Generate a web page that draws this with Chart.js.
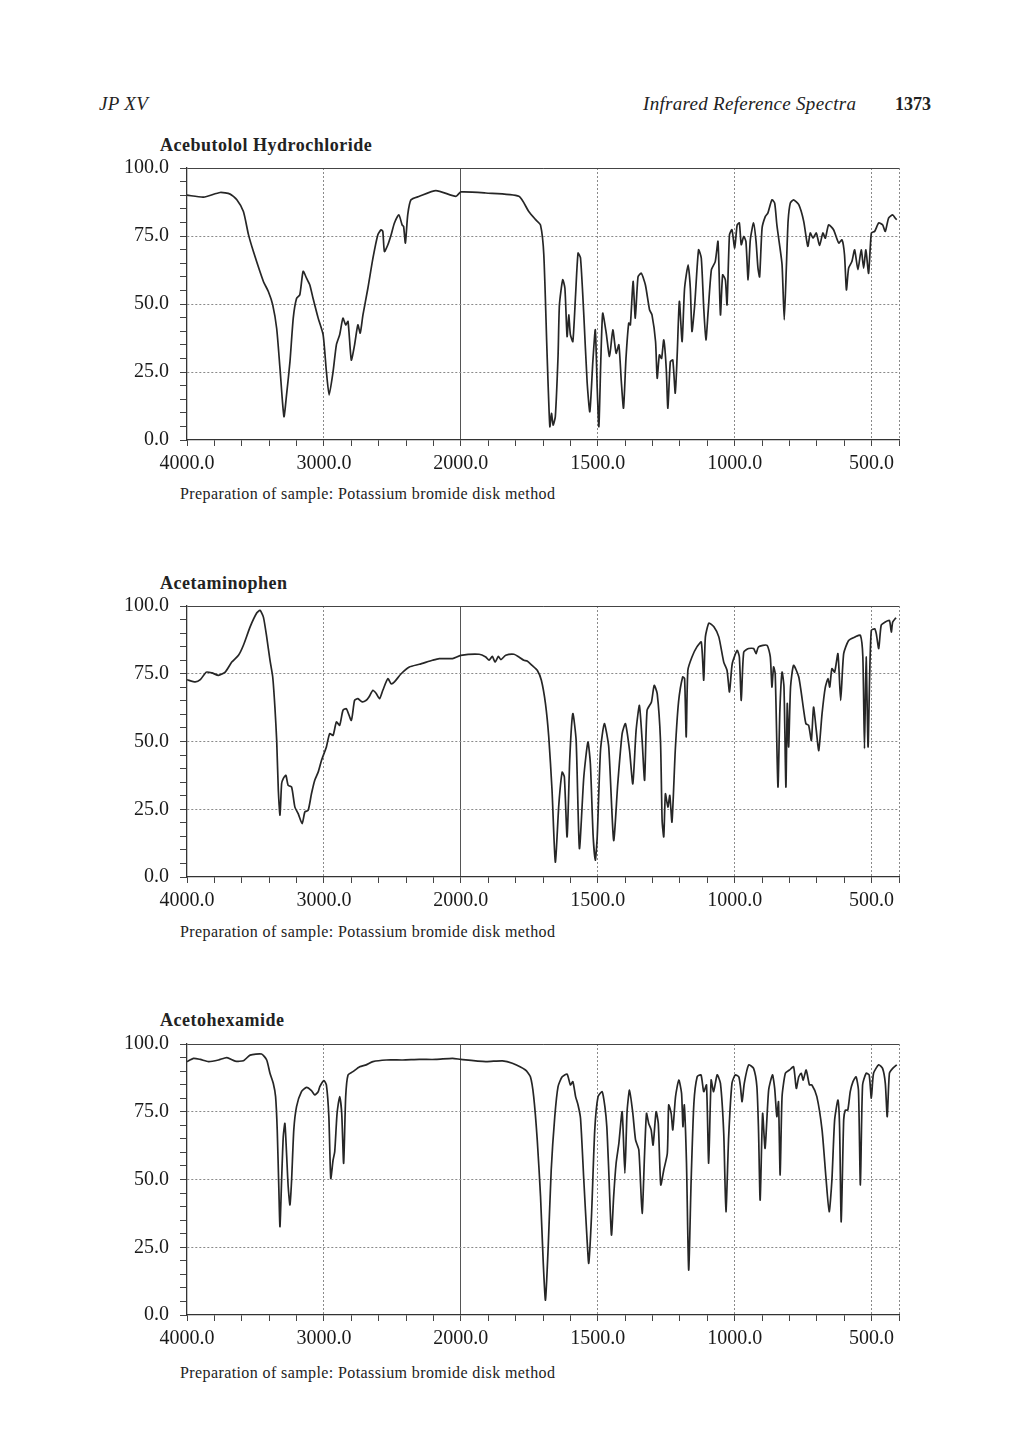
<!DOCTYPE html>
<html>
<head>
<meta charset="utf-8">
<script src="https://cdn.jsdelivr.net/npm/chart.js@4"></script>
<style>
  body { margin: 0; background: #fff; width: 1020px; height: 1443px; position: relative; font-family: "Liberation Serif", serif; color: #222; }
  .txt { position: absolute; white-space: nowrap; line-height: 1; }
  .head { font-size: 19px; font-style: italic; letter-spacing: 0.3px; top: 94px; }
  .title { font-size: 18px; font-weight: bold; letter-spacing: 0.5px; left: 160px; }
  .note { font-size: 16px; letter-spacing: 0.4px; left: 180px; }
  canvas { position: absolute; left: 0; }
</style>
</head>
<body>
<div class="txt head" style="left:99px;">JP XV</div>
<div class="txt head" style="left:643px;">Infrared Reference Spectra</div>
<div class="txt" style="left:895px;top:95px;font-size:18px;font-weight:bold;">1373</div>

<div class="txt title" style="top:136px;">Acebutolol Hydrochloride</div>
<canvas id="c1" width="1020" height="340" style="top:140px"></canvas>
<div class="txt note" style="top:486px;">Preparation of sample: Potassium bromide disk method</div>

<div class="txt title" style="top:574px;">Acetaminophen</div>
<canvas id="c2" width="1020" height="339" style="top:578px"></canvas>
<div class="txt note" style="top:924px;">Preparation of sample: Potassium bromide disk method</div>

<div class="txt title" style="top:1011px;">Acetohexamide</div>
<canvas id="c3" width="1020" height="339" style="top:1016px"></canvas>
<div class="txt note" style="top:1365px;">Preparation of sample: Potassium bromide disk method</div>

<script>
// wavenumber (cm-1) and transmittance (%)
const acebutololWn = [4000,3879,3758,3685,3636,3588,3551,3515,3442,3406,3374,3345,3321,3292,3273,3248,3224,3200,3176,3152,3127,3103,3079,3042,3006,2982,2962,2933,2909,2885,2861,2841,2824,2800,2776,2752,2735,2715,2679,2642,2606,2582,2570,2558,2533,2509,2485,2453,2429,2418,2405,2388,2364,2303,2182,2036,2000,1909,1788,1752,1727,1709,1697,1685,1675,1669,1663,1655,1645,1640,1628,1620,1612,1606,1600,1591,1581,1572,1563,1551,1539,1529,1518,1509,1502,1496,1489,1482,1470,1457,1445,1433,1423,1414,1406,1397,1387,1381,1371,1363,1353,1341,1326,1311,1302,1289,1283,1275,1267,1259,1250,1244,1235,1226,1217,1210,1202,1192,1183,1170,1162,1156,1146,1132,1122,1113,1105,1097,1085,1071,1061,1052,1044,1034,1028,1019,1010,1000,991,983,976,967,959,951,943,931,922,915,909,900,888,879,864,854,846,837,827,819,811,805,797,785,766,748,733,724,714,702,690,678,669,657,639,620,608,599,592,584,572,562,550,538,529,521,511,501,489,474,460,450,438,423,414,408];
const acebutololT = [90,89.3,91,90.4,88.3,84,75.5,69.3,58.3,54.6,49.7,41,26.4,8.6,16.6,28.8,44.8,52,53.4,62,59.5,57,52,44.8,38.7,25.2,16.6,25.2,35,38.7,44.8,42.3,43.6,29.4,35,42.3,39.3,46,55.8,66.9,75.5,77.3,76.7,69.3,71.8,75.5,79.8,82.8,79.1,78.5,72.4,82.8,88.3,89.6,91.7,89.6,91.2,90.8,89.6,84,81,79,68,31.3,4.9,9.8,5.5,8.6,31,49.7,58.9,55.8,38,46,38.7,36.2,53.4,68.7,66.9,46,21.5,10.4,28.8,40.5,19,4.9,28.8,46.6,39.9,30.7,40.5,31.9,35,21.5,11.7,30,43,42.3,58.3,44.8,60,61.3,57,47.9,46,36.2,22.7,31.3,30,36.8,26.4,11.7,28.8,29.4,17.2,31.3,51,36.2,55.8,64.4,55.8,39.9,49.7,69.9,66.9,48.5,36.8,47.2,62.6,65.6,73,46,60.7,58.9,49.7,75.5,77.3,70.6,79.1,79.8,71.8,74.8,73,58.9,73.6,79.8,73,63.2,60,77.9,82.2,83.4,88.3,87.1,79.1,72.4,64.4,44.2,64.4,80.4,87.1,88.3,86.5,80.4,71.2,76.1,74.2,76.1,71.5,76.1,74.2,79.1,77.3,72.4,73.6,68.1,55.2,63.2,65.6,69.9,62.6,69.9,63.2,69.9,61.3,76.1,76.7,79.8,79.1,76.7,81.6,82.8,81.6,81];

const acetaminophenWn = [4000,3939,3903,3859,3818,3770,3721,3673,3624,3588,3539,3491,3467,3442,3418,3394,3374,3358,3345,3333,3321,3309,3297,3278,3261,3236,3212,3188,3159,3139,3115,3091,3067,3042,3018,2982,2958,2933,2909,2885,2861,2836,2800,2776,2752,2720,2691,2671,2642,2618,2594,2570,2533,2509,2485,2436,2376,2303,2206,2158,2061,2000,1933,1909,1897,1885,1875,1863,1854,1836,1806,1788,1770,1758,1740,1721,1706,1691,1679,1667,1655,1642,1630,1622,1612,1602,1591,1579,1567,1551,1536,1527,1517,1509,1502,1490,1476,1460,1442,1427,1411,1399,1384,1372,1360,1348,1338,1329,1320,1304,1294,1283,1271,1265,1259,1253,1244,1237,1229,1217,1205,1190,1183,1177,1171,1156,1138,1122,1113,1107,1094,1076,1058,1040,1028,1019,1009,991,983,976,967,949,931,922,913,882,870,864,858,852,842,835,827,820,813,808,803,796,785,766,748,740,730,720,712,702,693,681,669,659,653,645,635,623,613,602,584,560,541,532,526,520,513,507,501,489,483,474,465,450,435,428,423,411];
const acetaminophenT = [72.8,72,72.8,75.6,75.3,74.4,75.6,79.3,81.8,85.5,92.3,97.4,98.4,95.9,88.6,80,73.8,62.7,50.4,32,22.8,34.4,36.3,37.5,33.8,33.2,25.8,23.4,19.7,24,24.6,30.7,35.7,38.7,43,48,52.9,52.3,57.2,56,61.5,62.1,57.8,65.2,65.8,64.6,65.2,66.4,68.9,67.7,65.8,68.9,73.2,71.3,72,75,77.5,78.5,80,80.6,80.6,81.8,82.2,81.2,80,81.4,79.3,81.4,80.2,81.8,82.2,81.2,80,79.7,78.1,76.3,72.6,64,51.7,32,5.5,27,38.7,36.9,14.8,44.3,60.3,50.4,10.5,36.9,49.8,41.8,15.4,6.2,14.8,46.7,56.6,48,13.5,34.4,52.9,56.6,46.7,34.4,54.1,63.3,50.4,35.7,61.5,64.6,70.7,67.7,50.4,20.9,14.8,30.7,25.8,30.1,20.3,46.7,64.6,73.8,73.2,51.7,76.3,81.2,84.9,86.7,72.6,88.6,93.7,92.3,88.6,79.3,76.3,68.3,78.7,83.6,81.2,65.2,83,84.3,84.3,82.4,84.9,85.5,81.2,70.1,77.5,75,33.2,61.5,75.6,70.1,33.2,64,48,70.1,78.1,73.8,61.5,56.6,56,50.4,62.7,54.1,46.7,60.3,70.1,73.2,70.1,76.9,75.6,82.4,65.2,82.4,87.3,88.6,89.2,81.2,47.4,81.2,48,75,91,91.6,89.8,84.3,92.9,94.1,94.7,90.4,94.1,95.7];

const acetohexamideWn = [4000,3952,3903,3842,3770,3709,3648,3588,3539,3455,3418,3394,3370,3353,3341,3329,3321,3309,3297,3285,3273,3261,3248,3236,3220,3200,3164,3127,3091,3067,3042,3030,3000,2982,2964,2950,2933,2921,2904,2885,2870,2856,2841,2824,2788,2739,2691,2642,2545,2424,2303,2182,2061,2000,1909,1848,1812,1764,1746,1734,1721,1709,1699,1691,1681,1670,1657,1645,1630,1612,1600,1591,1581,1572,1563,1551,1539,1533,1523,1511,1499,1484,1474,1467,1460,1450,1442,1433,1423,1411,1401,1393,1384,1372,1362,1350,1338,1329,1322,1314,1305,1298,1287,1279,1270,1259,1246,1241,1232,1226,1216,1204,1194,1189,1184,1176,1168,1159,1149,1137,1123,1113,1103,1095,1086,1077,1064,1052,1040,1032,1022,1010,998,985,979,973,965,949,931,919,913,907,898,889,876,862,854,846,840,834,827,815,800,785,775,766,757,750,739,727,718,700,681,667,655,645,635,623,617,611,602,596,587,578,568,557,548,541,533,520,509,501,493,474,460,450,443,435,423,408];
const acetohexamideT = [93.5,94.7,94.3,93.5,94.1,95,93.7,93.8,95.9,96.3,94.1,89.2,85.5,80.6,68.3,46.1,32.6,49.8,65.8,70.7,59.7,47.4,40.6,49.8,68.3,76.9,82.4,84,82.8,81.2,82.4,84.3,86.5,84.9,73.2,50.4,57.2,60.3,74.4,80.6,74.4,56,80.6,88.6,89.8,91.6,92.3,93.5,94.1,94.1,94.3,94.3,94.7,94.3,93.5,93.8,92.9,90.4,87.9,80.6,64.6,43.7,19.1,5.5,25.2,53.5,73.2,84.3,87.9,88.9,84.9,86.1,80.6,77.5,72.6,49.8,27.7,19.1,36.3,68.3,80.6,82.4,76.9,69.5,53.5,29.5,43.7,56,63.3,75,52.3,75,83,74.4,64.6,60.9,37.5,59.7,74.4,70.7,68.3,62.7,75,70.7,48,53.5,59.7,77.5,74.4,68.3,80.6,86.7,81.8,69.5,77.5,56,16.6,49.8,78.1,87.9,88.6,82.4,84.9,56,86.7,82.4,88.6,85.5,67,38.1,65.8,85.5,88.6,87.9,84.3,78.7,85.5,92.3,91,84.3,68.3,42.4,74.4,61.5,83,88.6,83.6,73.2,78.7,51.7,80.6,89.2,90.4,91.6,83.6,87.9,89.2,86.7,90.4,84.9,84.9,80.6,68.3,51,38.1,49.8,72,79.3,69.5,34.4,72,75.6,75.6,82.4,86.1,87.9,83,48,84.9,89.2,88.6,80,89.2,92.3,91,85.5,73.2,89.2,91,92.3];

// axis ticks
const xTicks = [4000,3800,3600,3400,3200,3000,2800,2600,2400,2200,2000,1900,1800,1700,1600,1500,1400,1300,1200,1100,1000,900,800,700,600,500,400];
const xLabelled = [4000,3000,2000,1500,1000,500];
const xGridAt = [3000,2000,1500,1000,500,400];
const yLabelled = [0,25,50,75,100];

// IR chart paper: 4000-2000 at half the scale of 2000-400
class IrSplitScale extends Chart.LinearScale {
  getPixelForValue(v) {
    const u = v >= 2000 ? (4000 - v) : 2000 + (2000 - v) * 2;
    return this.left + u / 5200 * this.width;
  }
  getValueForPixel(p) {
    const u = (p - this.left) / this.width * 5200;
    return u <= 2000 ? 4000 - u : 2000 - (u - 2000) / 2;
  }
}
IrSplitScale.id = 'irsplit';
IrSplitScale.defaults = {};
Chart.register(IrSplitScale);

const tickFont = { family: 'Liberation Serif', size: 20 };

function makeChart(id, wn, t) {
  const pts = wn.map((w, i) => ({ x: w, y: t[i] }));
  return new Chart(document.getElementById(id), {
    type: 'line',
    data: {
      datasets: [{
        data: pts,
        borderColor: '#262626',
        borderWidth: 1.7,
        pointRadius: 0,
        tension: 0.2
      }]
    },
    options: {
      responsive: false,
      animation: false,
      devicePixelRatio: 1,
      layout: { padding: { left: 0, right: 121, top: 28, bottom: 0 } },
      plugins: { legend: { display: false }, tooltip: { enabled: false } },
      scales: {
        x: {
          type: 'irsplit',
          min: 400,
          max: 4000,
          afterBuildTicks: s => { s.ticks = xTicks.map(v => ({ value: v })); },
          afterFit: s => { s.height = 40; },
          ticks: {
            autoSkip: false,
            maxRotation: 0,
            padding: 6,
            color: '#1a1a1a',
            font: tickFont,
            callback: v => xLabelled.includes(v) ? v.toFixed(1) : ''
          },
          grid: {
            drawTicks: true,
            tickLength: 6,
            tickColor: '#444',
            color: c => !c.tick ? 'transparent' : (c.tick.value === 2000 ? '#555' : (xGridAt.includes(c.tick.value) ? '#8a8a8a' : 'transparent')),
            lineWidth: 1
          },
          border: {
            color: '#333',
            width: 1.3,
            dash: c => (c.tick && c.tick.value === 2000) ? [] : [2, 2]
          }
        },
        y: {
          min: 0,
          max: 100,
          afterBuildTicks: s => {
            const arr = [];
            for (let v = 0; v <= 100; v += 5) arr.push({ value: v });
            s.ticks = arr;
          },
          afterFit: s => { s.width = 187; },
          ticks: {
            autoSkip: false,
            padding: 11,
            color: '#1a1a1a',
            font: tickFont,
            callback: v => yLabelled.includes(v) ? v.toFixed(1) : ''
          },
          grid: {
            drawTicks: true,
            tickLength: 7,
            tickColor: '#444',
            color: c => !c.tick ? 'transparent' : (c.tick.value === 100 ? '#444' : (c.tick.value % 25 === 0 && c.tick.value > 0 ? '#8a8a8a' : 'transparent')),
            lineWidth: 1
          },
          border: {
            color: '#333',
            width: 1.3,
            dash: c => (c.tick && c.tick.value === 100) ? [] : [2, 2]
          }
        }
      }
    }
  });
}

makeChart('c1', acebutololWn, acebutololT);
makeChart('c2', acetaminophenWn, acetaminophenT);
makeChart('c3', acetohexamideWn, acetohexamideT);
</script>
</body>
</html>
